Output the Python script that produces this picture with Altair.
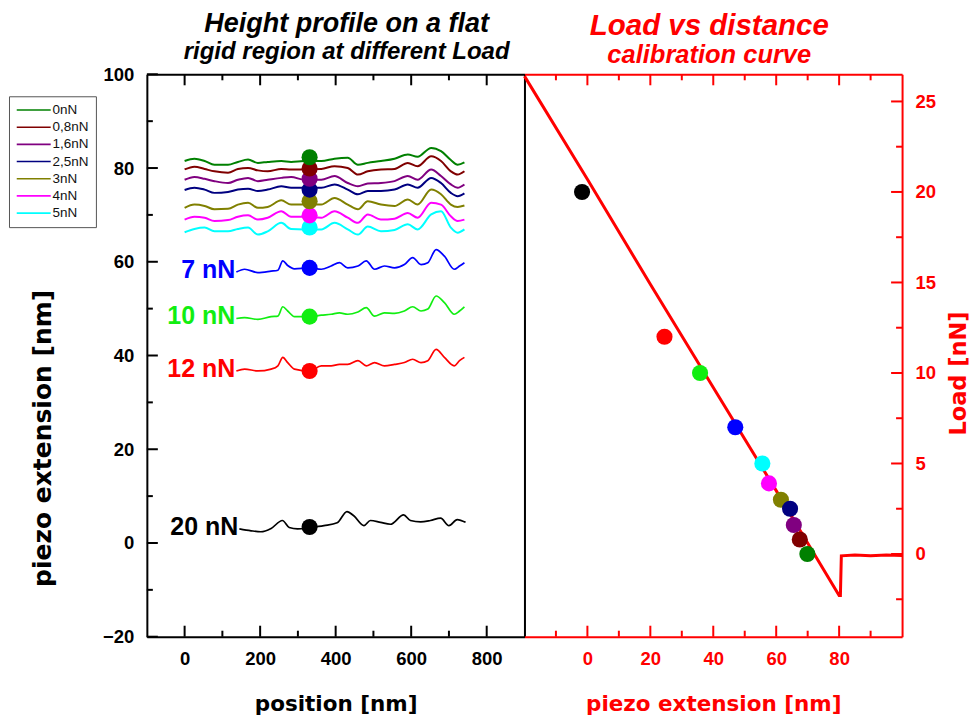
import altair as alt
import pandas as pd

FONT = "Liberation Sans"
TFONT = "DejaVu Sans"
RED = "#ff0000"

# ---------------- left panel: height profiles ----------------
top_pos = [0, 26, 53, 79, 115, 141, 168, 194, 220, 256, 282, 317, 362, 397, 432,
           459, 485, 520, 556, 591, 617, 653, 679, 705, 723, 741]
h_0nN = [81.5, 82.0, 81.5, 80.7, 80.7, 81.3, 81.8, 81.1, 81.3, 81.5, 81.3, 81.5, 81.5,
         82.0, 82.2, 80.7, 81.1, 81.5, 82.0, 82.9, 82.4, 84.3, 83.6, 81.7, 80.7, 81.2]
h_08nN = [79.7, 80.3, 79.8, 79.3, 79.0, 79.8, 80.0, 79.5, 79.3, 79.8, 79.7, 79.7, 79.8,
          80.4, 80.0, 78.6, 79.3, 79.7, 79.8, 81.1, 80.4, 82.5, 81.5, 79.3, 78.6, 79.3]
h_16nN = [77.5, 78.1, 77.7, 77.2, 76.8, 77.5, 77.9, 77.2, 77.5, 77.9, 78.1, 77.5, 77.5,
          78.3, 76.8, 76.1, 76.7, 76.8, 77.2, 78.3, 77.5, 79.7, 78.3, 76.5, 75.8, 76.5]
h_25nN = [75.3, 75.8, 75.4, 74.7, 74.9, 75.4, 75.6, 75.1, 75.4, 76.1, 75.8, 75.8, 75.8,
          76.5, 75.4, 74.4, 75.1, 75.1, 75.4, 76.5, 75.8, 77.9, 76.8, 74.7, 74.0, 74.6]
h_3nN = [71.5, 72.2, 71.9, 71.2, 71.3, 72.2, 72.6, 71.5, 71.7, 73.1, 72.2, 72.2, 72.2,
         73.6, 72.2, 71.2, 72.9, 72.2, 71.9, 73.3, 72.2, 75.4, 74.4, 72.2, 71.7, 72.0]
h_4nN = [69.0, 69.6, 69.4, 68.7, 68.9, 69.6, 69.9, 69.0, 69.4, 70.8, 69.6, 69.6, 69.4,
         70.8, 69.4, 68.3, 70.1, 69.0, 69.2, 70.4, 69.4, 72.6, 72.2, 69.7, 68.7, 69.0]
h_5nN = [66.3, 67.0, 67.3, 66.5, 66.5, 67.0, 67.3, 65.8, 66.5, 68.3, 67.0, 66.9, 66.9,
         68.3, 66.9, 65.8, 67.5, 66.5, 66.8, 68.0, 66.9, 70.1, 70.8, 67.3, 66.2, 66.9]

low_pos = [137, 159, 194, 229, 247, 260, 273, 291, 331, 362, 388, 410, 432, 459, 481,
           503, 529, 556, 582, 604, 626, 644, 666, 688, 714, 728, 741]
h_7nN = [57.8, 58.4, 57.7, 58.0, 58.2, 60.2, 59.2, 58.5, 58.7, 58.4, 59.1, 59.8, 58.7,
         59.1, 60.2, 58.4, 59.1, 58.7, 59.4, 60.9, 59.4, 59.8, 62.6, 61.2, 58.4, 59.1, 59.8]
h_10nN = [47.9, 48.1, 47.7, 48.3, 48.4, 50.4, 49.5, 48.3, 48.3, 48.6, 48.8, 49.1, 48.8,
          49.3, 50.2, 48.4, 49.1, 49.0, 49.5, 50.4, 49.5, 49.9, 52.7, 51.3, 48.8, 49.5, 50.4]
h_12nN = [36.7, 37.1, 36.7, 37.1, 37.8, 39.6, 38.5, 37.1, 36.7, 37.8, 37.8, 38.1, 38.1,
          38.9, 37.8, 38.5, 37.8, 38.1, 38.5, 39.2, 38.5, 38.9, 41.3, 39.6, 37.8, 38.9, 39.6]
pos_20nN = [145, 176, 202, 229, 259, 277, 299, 334, 369, 404, 430, 448, 475, 492, 519,
            545, 580, 598, 625, 651, 678, 700, 722, 744]
h_20nN = [3.0, 2.6, 2.4, 3.1, 4.8, 3.3, 3.0, 3.3, 3.7, 4.3, 6.7, 5.8, 3.7, 4.8, 4.4,
          4.0, 6.0, 4.8, 4.5, 4.8, 5.3, 3.7, 5.0, 4.4]

legend_names = ["0nN", "0,8nN", "1,6nN", "2,5nN", "3nN", "4nN", "5nN"]
legend_colors = ["#008000", "#800000", "#800080", "#000080", "#808000", "#ff00ff", "#00ffff"]
low_names = ["7 nN", "10 nN", "12 nN", "20 nN"]
low_colors = ["#0000ff", "#11ee11", "#ff0000", "#000000"]

# markers (drawn bottom-up so the upper ones sit on top)
mark_colors = ["#000000", "#ff0000", "#11ee11", "#0000ff", "#00ffff", "#ff00ff",
               "#808000", "#000080", "#800080", "#800000", "#008000"]
left_mark_pos = 331
left_mark_h = [3.4, 36.7, 48.3, 58.7, 67.3, 69.9, 72.9, 75.4, 77.7, 79.9, 82.3]

# ---------------- right panel: calibration ----------------
cal_x = [-20, 0, 20, 40, 60, 80, 80.4, 80.7, 85, 90, 95, 100]
cal_load = [26.4, 20.7, 14.9, 9.2, 3.5, -2.3, -2.3, -0.1, -0.05, -0.1, -0.05, -0.08]
right_mark_x = [-1.7, 24.5, 35.8, 47.0, 55.6, 57.7, 61.5, 64.4, 65.6, 67.5, 69.9]
right_mark_load = [20.0, 12.0, 10.0, 7.0, 5.0, 3.9, 3.0, 2.5, 1.6, 0.8, 0.0]

# tick values
lx_major = [0, 200, 400, 600, 800]
lx_minor = [100, 300, 500, 700]
ly_major = [-20, 0, 20, 40, 60, 80, 100]
ly_minor = [-10, 10, 30, 50, 70, 90]
rx_major = [0, 20, 40, 60, 80]
rx_minor = [-10, 10, 30, 50, 70, 90]
ry_major = [0, 5, 10, 15, 20, 25]
ry_minor = [-2.5, 2.5, 7.5, 12.5, 17.5, 22.5]

W, H = 378, 563
MAJ, MIN = 11, 6

# ---------------- frames ----------------
top_series = [h_0nN, h_08nN, h_16nN, h_25nN, h_3nN, h_4nN, h_5nN]
df_top = pd.DataFrame([
    {"pos": p, "h": v, "series": n}
    for n, s in zip(legend_names, top_series) for p, v in zip(top_pos, s)
])
low_series = [(low_pos, h_7nN), (low_pos, h_10nN), (low_pos, h_12nN), (pos_20nN, h_20nN)]
df_low = pd.DataFrame([
    {"pos": p, "h": v, "series": n, "color": c}
    for n, c, (ps, s) in zip(low_names, low_colors, low_series) for p, v in zip(ps, s)
])
df_lab = pd.DataFrame({
    "label": low_names,
    "pos": [ps[0] for ps, s in low_series],
    "h": [s[0] for ps, s in low_series],
    "color": low_colors,
})
df_lmark = pd.DataFrame({"pos": [left_mark_pos] * len(left_mark_h), "h": left_mark_h,
                         "color": mark_colors, "order": list(range(len(left_mark_h)))})
df_cal = pd.DataFrame({"x": cal_x, "load": cal_load})
df_rmark = pd.DataFrame({"x": right_mark_x, "load": right_mark_load,
                         "color": mark_colors, "order": list(range(len(right_mark_x)))})


def axis(orient, color, labels=False, values=None, title=None, lp=13, tp=0, tfs=21.5, **kw):
    args = dict(orient=orient, grid=False, ticks=False, tickSize=0, domain=True,
                domainColor=color, domainWidth=2, labels=labels, minExtent=0)
    if labels:
        args.update(values=values, labelFont=FONT, labelFontSize=18.5, labelFontWeight="bold",
                    labelColor=color, labelPadding=lp, labelFlush=False)
    if title:
        args.update(title=title, titleFont=TFONT, titleFontSize=tfs, titleFontWeight="bold",
                    titleColor=color, titlePadding=tp)
    else:
        args["title"] = None
    args.update(kw)
    return alt.Axis(**args)


def xticks(vals, length, side, scale, color):
    df = pd.DataFrame({"v": vals})
    y0, y1 = (H, H - length) if side == "bottom" else (0, length)
    return alt.Chart(df).mark_rule(color=color, strokeWidth=2).encode(
        x=alt.X("v:Q", scale=scale, axis=None), y=alt.value(y0), y2=alt.value(y1))


def yticks(vals, length, side, scale, color):
    df = pd.DataFrame({"v": vals})
    x0, x1 = (0, length) if side == "left" else (W, W - length)
    return alt.Chart(df).mark_rule(color=color, strokeWidth=2).encode(
        y=alt.Y("v:Q", scale=scale, axis=None), x=alt.value(x0), x2=alt.value(x1))


def panel_title(line1, line2, color, s1, s2, dx=0):
    return alt.TitleParams(line1, subtitle=line2, font=FONT, fontSize=s1, fontWeight="bold",
                           fontStyle="italic", color=color, subtitleFont=FONT,
                           subtitleFontSize=s2, subtitleFontWeight="bold",
                           subtitleFontStyle="italic", subtitleColor=color,
                           subtitlePadding=2, anchor="middle", offset=0.5, dx=dx)


# ---------------- left chart ----------------
xs_l = alt.Scale(domain=[-100, 900], nice=False, zero=False)
ys_l = alt.Scale(domain=[-20, 100], nice=False, zero=False)

legend = alt.Legend(orient="none", legendX=-138, legendY=22, title=None,
                    symbolType="M-3.4,0H3.4", symbolSize=100, symbolStrokeWidth=1.6,
                    symbolOffset=11, labelOffset=12, labelFont=FONT, labelFontSize=13.5,
                    labelColor="#111111", padding=7, rowPadding=2.2,
                    strokeColor="#555555", fillColor="white")

top_lines = alt.Chart(df_top).mark_line(strokeWidth=2, interpolate="monotone").encode(
    x=alt.X("pos:Q", scale=xs_l,
            axis=axis("bottom", "black", labels=True, values=lx_major,
                      title="position [nm]", tp=25)),
    y=alt.Y("h:Q", scale=ys_l,
            axis=axis("left", "black", labels=True, values=ly_major,
                      title="piezo extension [nm]", tfs=25, titleX=-91, titleY=364)),
    color=alt.Color("series:N", scale=alt.Scale(domain=legend_names, range=legend_colors),
                    legend=legend),
)
low_lines = alt.Chart(df_low).mark_line(strokeWidth=1.7, interpolate="monotone").encode(
    x=alt.X("pos:Q", scale=xs_l, axis=axis("top", "black")),
    y=alt.Y("h:Q", scale=ys_l, axis=axis("right", "black")),
    color=alt.Color("color:N", scale=None),
    detail="series:N",
)
lmarks = alt.Chart(df_lmark).mark_circle(size=260, opacity=1).encode(
    x=alt.X("pos:Q", scale=xs_l, axis=None),
    y=alt.Y("h:Q", scale=ys_l, axis=None),
    color=alt.Color("color:N", scale=None),
    order="order:Q",
)
labels = alt.Chart(df_lab).mark_text(align="right", baseline="middle", font=FONT,
                                     fontSize=25, fontWeight="bold", dx=-1, dy=-2).encode(
    x=alt.X("pos:Q", scale=xs_l, axis=None),
    y=alt.Y("h:Q", scale=ys_l, axis=None),
    text="label:N",
    color=alt.Color("color:N", scale=None),
)

left = alt.layer(
    top_lines, low_lines, lmarks, labels,
    xticks(lx_major, MAJ, "bottom", xs_l, "black"), xticks(lx_minor, MIN, "bottom", xs_l, "black"),
    xticks(lx_major, MAJ, "top", xs_l, "black"), xticks(lx_minor, MIN, "top", xs_l, "black"),
    yticks(ly_major, MAJ, "left", ys_l, "black"), yticks(ly_minor, MIN, "left", ys_l, "black"),
).resolve_axis(x="independent", y="independent").properties(
    width=W, height=H,
    title=panel_title("Height profile on a flat", "rigid region at different Load",
                      "black", 27, 24, dx=11),
)

# ---------------- right chart ----------------
xs_r = alt.Scale(domain=[-20, 100], nice=False, zero=False)
ys_r = alt.Scale(domain=[-4.57, 26.5], nice=False, zero=False)

cal = alt.Chart(df_cal).mark_line(color=RED, strokeWidth=3).encode(
    x=alt.X("x:Q", scale=xs_r,
            axis=axis("bottom", RED, labels=True, values=rx_major,
                      title="piezo extension [nm]", tp=25)),
    y=alt.Y("load:Q", scale=ys_r,
            axis=axis("right", RED, labels=True, values=ry_major, title="Load [nN]",
                      tfs=22.5, titleAngle=270, titleBaseline="top", titleX=45, titleY=299)),
)
rmarks = alt.Chart(df_rmark).mark_circle(size=260, opacity=1).encode(
    x=alt.X("x:Q", scale=xs_r, axis=axis("top", RED)),
    y=alt.Y("load:Q", scale=ys_r, axis=None),
    color=alt.Color("color:N", scale=None),
    order="order:Q",
)

right = alt.layer(
    cal, rmarks,
    xticks(rx_major, MAJ, "bottom", xs_r, RED), xticks(rx_minor, MIN, "bottom", xs_r, RED),
    xticks(rx_major, MAJ, "top", xs_r, RED), xticks(rx_minor, MIN, "top", xs_r, RED),
    yticks(ry_major, MAJ, "right", ys_r, RED), yticks(ry_minor, MIN, "right", ys_r, RED),
).resolve_axis(x="independent", y="independent").properties(
    width=W, height=H,
    title=panel_title("Load vs distance", "calibration curve", RED, 29.5, 25.5, dx=-4),
)

chart = alt.hconcat(left, right, spacing=0, bounds="flush").properties(
    padding={"left": 0, "top": 1, "right": 0, "bottom": 0}
).configure_view(stroke=None)

chart.save("out.html", embed_options={"renderer": "svg", "actions": False})
